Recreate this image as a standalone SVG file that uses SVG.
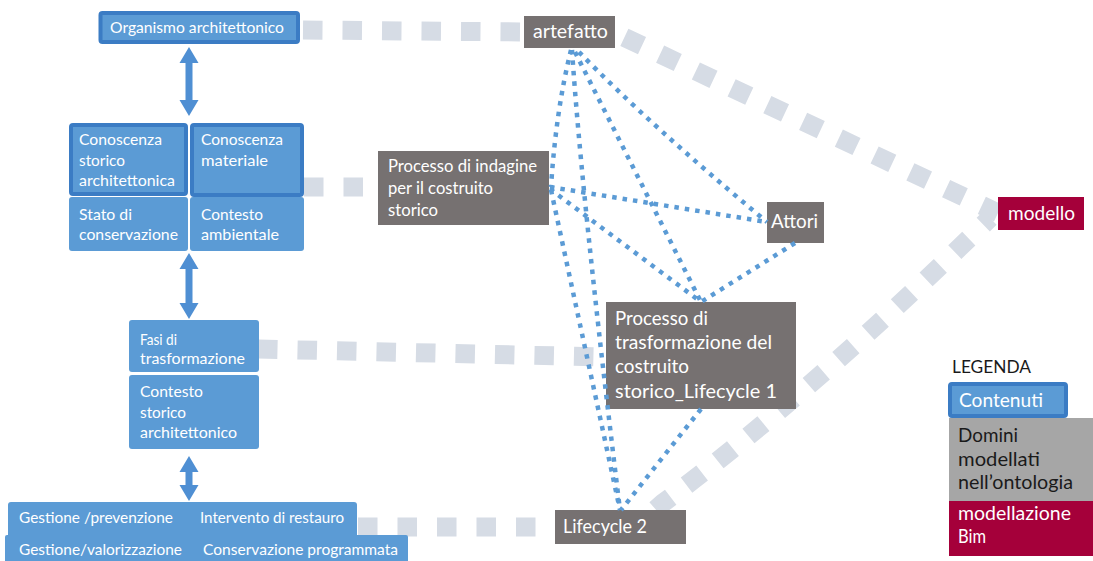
<svg xmlns="http://www.w3.org/2000/svg" width="1093" height="561" viewBox="0 0 1093 561">
  <style>
    text { font-family: Lato, "Liberation Sans", Arial, sans-serif; }
    .w { fill: #ffffff; }
    .k { fill: #1a1a1a; }
    .f16 { font-size: 16px; }
    .f17 { font-size: 17px; }
    .f19 { font-size: 19px; }
    .f20 { font-size: 19.5px; }
    .blue { fill: #5b9bd5; }
    .blueb { fill: #5b9bd5; stroke: #3b7cc4; stroke-width: 4; }
    .grey { fill: #767171; }
    .bim { fill: #a5003a; }
    .dom { fill: #a6a6a6; }
    .arr { fill: #4f8fd3; }
    .thick { fill: none; stroke: #d6dce5; stroke-width: 19; stroke-dasharray: 19.5 20; }
    .dot { fill: none; stroke: #5b9bd5; stroke-width: 4.5; stroke-dasharray: 4.5 6; }
  </style>

  <!-- wide grey dashed links (behind the boxes) -->
  <g id="links-wide">
    <path class="thick" d="M 303 30 L 524 32"/>
    <path class="thick" d="M 615 33 L 998 213" stroke-dashoffset="-10.35"/>
    <path class="thick" d="M 304 187 L 378 187"/>
    <path class="thick" d="M 258 349 L 605 357"/>
    <path class="thick" d="M 358 527 L 555 527"/>
    <path class="thick" d="M 633 529 L 663 503 Q 814 390 990 218" stroke-dashoffset="9.55"/>
  </g>

  <!-- left column: contents -->
  <g id="organismo">
    <rect class="blueb" x="100.5" y="13" width="197.5" height="29" rx="2"/>
    <text class="w f16" x="110" y="33" textLength="174" lengthAdjust="spacingAndGlyphs">Organismo architettonico</text>
  </g>

  <g id="arrow-1"><path class="arr" d="M189 47 L198.5 63 L192.5 63 L192.5 100 L198.5 100 L189 116 L179.5 100 L185.5 100 L185.5 63 L179.5 63 Z"/></g>

  <g id="stato">
    <rect class="blue" x="69" y="197" width="119" height="54" rx="3"/>
    <text class="w f16" x="79" y="220" textLength="53" lengthAdjust="spacingAndGlyphs">Stato di</text>
    <text class="w f16" x="79" y="240" textLength="99" lengthAdjust="spacingAndGlyphs">conservazione</text>
  </g>
  <g id="ambientale">
    <rect class="blue" x="190" y="197" width="114" height="54" rx="3"/>
    <text class="w f16" x="201" y="220" textLength="62" lengthAdjust="spacingAndGlyphs">Contesto</text>
    <text class="w f16" x="201" y="240" textLength="78" lengthAdjust="spacingAndGlyphs">ambientale</text>
  </g>
  <g id="conoscenza-storica">
    <rect class="blueb" x="71" y="125" width="115" height="69" rx="2"/>
    <text class="w f16" x="79" y="145" textLength="83" lengthAdjust="spacingAndGlyphs">Conoscenza</text>
    <text class="w f16" x="79" y="166" textLength="46" lengthAdjust="spacingAndGlyphs">storico</text>
    <text class="w f16" x="79" y="186" textLength="96" lengthAdjust="spacingAndGlyphs">architettonica</text>
  </g>
  <g id="conoscenza-materiale">
    <rect class="blueb" x="192" y="125" width="110" height="70" rx="2"/>
    <text class="w f16" x="201" y="145" textLength="82" lengthAdjust="spacingAndGlyphs">Conoscenza</text>
    <text class="w f16" x="201" y="166" textLength="67" lengthAdjust="spacingAndGlyphs">materiale</text>
  </g>

  <g id="arrow-2"><path class="arr" d="M189 253 L198.5 269 L192.5 269 L192.5 303 L198.5 303 L189 319 L179.5 303 L185.5 303 L185.5 269 L179.5 269 Z"/></g>

  <g id="fasi">
    <rect class="blue" x="129" y="320" width="130" height="52" rx="3"/>
    <text class="w f16" x="140" y="345" textLength="37" lengthAdjust="spacingAndGlyphs">Fasi di</text>
    <text class="w f16" x="140" y="364" textLength="105" lengthAdjust="spacingAndGlyphs">trasformazione</text>
  </g>
  <g id="contesto-storico">
    <rect class="blue" x="129" y="375" width="130" height="74" rx="3"/>
    <text class="w f16" x="140" y="397" textLength="63" lengthAdjust="spacingAndGlyphs">Contesto</text>
    <text class="w f16" x="140" y="418" textLength="46" lengthAdjust="spacingAndGlyphs">storico</text>
    <text class="w f16" x="140" y="438" textLength="97" lengthAdjust="spacingAndGlyphs">architettonico</text>
  </g>

  <g id="arrow-3"><path class="arr" d="M189 456 L198.5 472 L192.5 472 L192.5 485 L198.5 485 L189 501 L179.5 485 L185.5 485 L185.5 472 L179.5 472 Z"/></g>

  <g id="gestione">
    <rect class="blue" x="8" y="502" width="349" height="38" rx="3"/>
    <rect class="blue" x="5" y="535" width="403" height="30" rx="2"/>
    <text class="w f16" x="19" y="523" textLength="154" lengthAdjust="spacingAndGlyphs">Gestione /prevenzione</text>
    <text class="w f16" x="200" y="523" textLength="144" lengthAdjust="spacingAndGlyphs">Intervento di restauro</text>
    <text class="w f16" x="19" y="555" textLength="163" lengthAdjust="spacingAndGlyphs">Gestione/valorizzazione</text>
    <text class="w f16" x="203" y="555" textLength="195" lengthAdjust="spacingAndGlyphs">Conservazione programmata</text>
  </g>

  <!-- ontology domains -->
  <g id="artefatto">
    <rect class="grey" x="524" y="16" width="91" height="32"/>
    <text class="w f20" x="533" y="38" textLength="75" lengthAdjust="spacingAndGlyphs">artefatto</text>
  </g>
  <g id="processo-indagine">
    <rect class="grey" x="378" y="151" width="171" height="74"/>
    <text class="w f17" x="388" y="172" textLength="149" lengthAdjust="spacingAndGlyphs">Processo di indagine</text>
    <text class="w f17" x="388" y="194" textLength="105" lengthAdjust="spacingAndGlyphs">per il costruito</text>
    <text class="w f17" x="388" y="216" textLength="50" lengthAdjust="spacingAndGlyphs">storico</text>
  </g>
  <g id="attori">
    <rect class="grey" x="767" y="202" width="57" height="41"/>
    <text class="w f19" x="771" y="228" textLength="47" lengthAdjust="spacingAndGlyphs">Attori</text>
  </g>
  <g id="processo-trasformazione">
    <rect class="grey" x="606" y="302" width="190" height="107"/>
    <text class="w f20" x="615" y="325" textLength="93" lengthAdjust="spacingAndGlyphs">Processo di</text>
    <text class="w f20" x="615" y="349" textLength="157" lengthAdjust="spacingAndGlyphs">trasformazione del</text>
    <text class="w f20" x="615" y="373" textLength="74" lengthAdjust="spacingAndGlyphs">costruito</text>
    <text class="w f20" x="615" y="398" textLength="162" lengthAdjust="spacingAndGlyphs">storico_Lifecycle 1</text>
  </g>
  <g id="lifecycle-2">
    <rect class="grey" x="555" y="510" width="131" height="34"/>
    <text class="w f19" x="563" y="533" textLength="84" lengthAdjust="spacingAndGlyphs">Lifecycle 2</text>
  </g>

  <!-- BIM model -->
  <g id="modello">
    <rect class="bim" x="998" y="197" width="86" height="33"/>
    <text class="w f19" x="1008" y="220" textLength="67" lengthAdjust="spacingAndGlyphs">modello</text>
  </g>

  <!-- dotted relations between domains -->
  <g id="connectors">
    <path class="dot" d="M 571 50 Q 556 110 551 187"/>
    <path class="dot" d="M 572 50 Q 582 200 620 510"/>
    <path class="dot" d="M 575 52 L 701 302"/>
    <path class="dot" d="M 579 52 Q 650 125 767 222"/>
    <path class="dot" d="M 550 187 L 767 222"/>
    <path class="dot" d="M 550 189 L 701 302"/>
    <path class="dot" d="M 551 190 L 620 510"/>
    <path class="dot" d="M 795 243 L 701 302"/>
    <path class="dot" d="M 701 409 L 621 510"/>
  </g>

  <!-- legend -->
  <g id="legenda">
    <text class="k f17" x="952" y="373" textLength="79" lengthAdjust="spacingAndGlyphs">LEGENDA</text>
    <rect class="dom" x="949" y="418" width="144" height="83"/>
    <rect class="bim" x="949" y="501" width="144" height="55"/>
    <rect class="blueb" x="950" y="384" width="116" height="32" rx="2"/>
    <text class="w f19" x="959" y="407" textLength="84" lengthAdjust="spacingAndGlyphs">Contenuti</text>
    <text class="k f19" x="958" y="442" textLength="60" lengthAdjust="spacingAndGlyphs">Domini</text>
    <text class="k f19" x="958" y="466" textLength="82" lengthAdjust="spacingAndGlyphs">modellati</text>
    <text class="k f19" x="958" y="489" textLength="115" lengthAdjust="spacingAndGlyphs">nell’ontologia</text>
    <text class="w f19" x="958" y="520" textLength="113" lengthAdjust="spacingAndGlyphs">modellazione</text>
    <text class="w f19" x="958" y="543" textLength="28" lengthAdjust="spacingAndGlyphs">Bim</text>
  </g>
</svg>
